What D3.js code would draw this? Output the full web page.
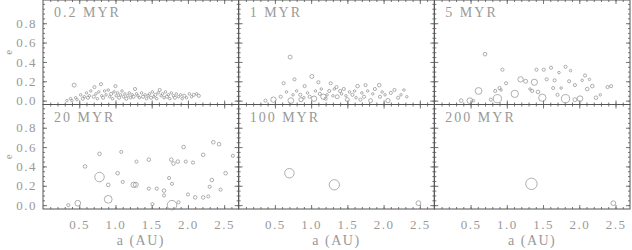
<!DOCTYPE html>
<html>
<head>
<meta charset="utf-8">
<script src="https://cdn.jsdelivr.net/npm/d3@7"></script>
<style>
  body { margin: 0; background: #fff; }
  text { font-family: "Liberation Serif", serif; fill: #999; }
</style>
</head>
<body>
<svg id="fig_planets" width="632" height="250"></svg>
<script>
// panel titles, in reading order
var ages = ["0.2 MYR", "1 MYR", "5 MYR", "20 MYR", "100 MYR", "200 MYR"];
var xTicks = [0.5, 1.0, 1.5, 2.0, 2.5];
var yTicks = [0.0, 0.2, 0.4, 0.6, 0.8];

// bodies: [a (AU), e, mass (relative to largest)]
var bodies02 = [
  [0.43,0.16,0.04],[0.33,0.00,0.01],[0.38,0.02,0.01],[0.40,0.00,0.01],[0.45,0.03,0.01],[0.47,0.01,0.01],
  [0.52,0.06,0.01],[0.55,0.02,0.02],[0.57,0.04,0.01],[0.60,0.08,0.01],[0.62,0.03,0.02],[0.64,0.05,0.01],
  [0.66,0.10,0.01],[0.70,0.04,0.02],[0.71,0.14,0.02],[0.73,0.07,0.01],[0.75,0.02,0.01],[0.77,0.09,0.01],
  [0.80,0.17,0.02],[0.81,0.05,0.01],[0.83,0.03,0.02],[0.85,0.10,0.01],[0.87,0.06,0.01],[0.90,0.11,0.01],
  [0.92,0.04,0.01],[0.94,0.07,0.02],[0.96,0.02,0.01],[0.98,0.09,0.01],[1.00,0.15,0.02],[1.01,0.05,0.01],
  [1.03,0.08,0.01],[1.05,0.03,0.02],[1.07,0.06,0.01],[1.09,0.10,0.01],[1.11,0.04,0.01],[1.13,0.07,0.01],
  [1.15,0.02,0.02],[1.17,0.05,0.01],[1.19,0.08,0.01],[1.21,0.03,0.01],[1.23,0.06,0.01],[1.25,0.04,0.02],
  [1.27,0.12,0.02],[1.29,0.07,0.01],[1.31,0.05,0.01],[1.33,0.03,0.01],[1.36,0.08,0.01],[1.38,0.04,0.02],
  [1.41,0.06,0.01],[1.43,0.02,0.01],[1.45,0.05,0.01],[1.47,0.07,0.01],[1.49,0.03,0.02],[1.51,0.09,0.01],
  [1.53,0.04,0.01],[1.55,0.06,0.02],[1.57,0.02,0.01],[1.59,0.08,0.01],[1.61,0.11,0.02],[1.63,0.05,0.01],
  [1.65,0.07,0.01],[1.67,0.03,0.01],[1.69,0.09,0.01],[1.71,0.04,0.02],[1.73,0.06,0.01],[1.75,0.02,0.01],
  [1.77,0.08,0.01],[1.80,0.05,0.01],[1.82,0.03,0.02],[1.84,0.07,0.01],[1.87,0.04,0.01],[1.90,0.06,0.01],
  [1.92,0.02,0.01],[1.95,0.05,0.02],[1.98,0.03,0.01],[2.02,0.07,0.01],[2.05,0.04,0.01],[2.08,0.06,0.02],
  [2.12,0.07,0.01],[2.15,0.05,0.02]
];
var bodies1 = [
  [0.71,0.45,0.04],[0.77,0.22,0.02],[0.62,0.18,0.02],[1.01,0.25,0.04],[0.91,0.15,0.02],[1.10,0.19,0.02],
  [1.27,0.18,0.02],[0.48,0.01,0.10],[0.37,0.00,0.02],[0.58,0.04,0.02],[0.72,0.00,0.12],[0.86,0.01,0.05],
  [1.04,0.02,0.10],[1.17,0.04,0.10],[1.36,0.04,0.04],[1.50,0.01,0.04],[1.68,0.01,0.02],[1.82,0.00,0.04],
  [1.95,0.04,0.02],[2.06,0.00,0.05],[1.94,0.16,0.03],[1.64,0.15,0.03],[1.75,0.16,0.02],[1.35,0.14,0.02],
  [1.40,0.10,0.02],[2.15,0.11,0.02],[2.28,0.11,0.01],[2.20,0.03,0.02],[0.66,0.09,0.01],[0.80,0.10,0.01],
  [0.85,0.06,0.02],[0.95,0.08,0.01],[0.98,0.04,0.02],[1.06,0.10,0.01],[1.12,0.07,0.02],[1.14,0.12,0.01],
  [1.22,0.06,0.01],[1.25,0.10,0.02],[1.30,0.05,0.01],[1.32,0.12,0.01],[1.42,0.07,0.01],[1.45,0.12,0.02],
  [1.48,0.05,0.01],[1.53,0.09,0.01],[1.57,0.06,0.02],[1.60,0.10,0.01],[1.62,0.03,0.01],[1.70,0.08,0.01],
  [1.73,0.04,0.02],[1.78,0.10,0.01],[1.85,0.07,0.01],[1.88,0.12,0.02],[1.98,0.09,0.01],[2.02,0.06,0.01],
  [2.10,0.08,0.02],[2.24,0.06,0.01],[2.32,0.04,0.01],[0.90,0.03,0.01],[1.20,0.02,0.02],[0.75,0.06,0.01]
];
var bodies5 = [
  [0.70,0.48,0.03],[0.94,0.32,0.02],[0.61,0.10,0.20],[0.49,0.00,0.12],[0.37,0.00,0.03],[0.87,0.02,0.35],
  [0.78,0.01,0.02],[1.11,0.07,0.25],[1.19,0.22,0.10],[1.26,0.20,0.04],[1.38,0.19,0.15],[1.43,0.09,0.03],
  [1.49,0.03,0.25],[1.41,0.32,0.02],[1.51,0.32,0.02],[1.61,0.34,0.02],[1.72,0.29,0.01],[1.81,0.35,0.02],
  [1.88,0.31,0.01],[1.66,0.21,0.02],[1.75,0.13,0.01],[1.86,0.20,0.02],[1.81,0.02,0.35],[1.94,0.16,0.02],
  [1.94,0.01,0.04],[2.01,0.02,0.12],[2.08,0.26,0.02],[2.14,0.22,0.01],[2.11,0.12,0.03],[2.18,0.15,0.03],
  [2.23,0.03,0.03],[2.29,0.06,0.01],[2.39,0.14,0.02],[2.44,0.15,0.02],[0.99,0.18,0.02],[0.90,0.13,0.02],
  [0.84,0.10,0.02],[0.92,0.11,0.01],[1.32,0.12,0.01],[1.55,0.22,0.02],[1.64,0.13,0.02],[1.35,0.10,0.02],
  [1.70,0.06,0.02],[2.04,0.21,0.01],[0.54,0.00,0.01]
];
var bodies20 = [
  [0.35,0.00,0.02],[0.48,0.02,0.12],[0.58,0.40,0.03],[0.78,0.53,0.03],[0.78,0.29,0.55],[0.90,0.06,0.30],
  [0.90,0.21,0.03],[1.03,0.33,0.03],[1.08,0.55,0.02],[1.10,0.24,0.02],[1.25,0.21,0.10],[1.28,0.21,0.08],
  [1.29,0.45,0.02],[1.46,0.47,0.03],[1.46,0.17,0.02],[1.51,0.01,0.02],[1.57,0.17,0.02],[1.67,0.10,0.02],
  [1.67,0.15,0.03],[1.74,0.28,0.02],[1.77,0.47,0.03],[1.78,0.00,0.55],[1.78,0.22,0.02],[1.80,0.43,0.03],
  [1.86,0.45,0.03],[1.87,0.03,0.02],[1.94,0.60,0.03],[1.97,0.45,0.02],[2.00,0.11,0.02],[2.07,0.44,0.02],
  [2.10,0.08,0.03],[2.21,0.52,0.03],[2.21,0.08,0.03],[2.28,0.09,0.02],[2.30,0.19,0.02],[2.33,0.26,0.03],
  [2.35,0.65,0.03],[2.43,0.63,0.03],[2.45,0.16,0.02],[2.52,0.33,0.03],[2.62,0.51,0.02]
];
var bodies100 = [
  [0.70,0.33,0.55],[1.32,0.21,0.70],[2.48,0.02,0.07]
];
var bodies200 = [
  [1.34,0.22,0.95],[2.47,0.02,0.07]
];
var panels = [bodies02, bodies1, bodies5, bodies20, bodies100, bodies200];

(function fig_planets() {
  var svg = d3.select("#fig_planets"),
      margin = {top: 0, right: 2, bottom: 41, left: 43},
      width = +svg.attr("width") - margin.left - margin.right,
      height = +svg.attr("height") - margin.top - margin.bottom,
      g = svg.append("g").attr("transform", "translate(" + margin.left + "," + margin.top + ")");

  var pw = width / 3, ph = height / 2;

  var x = d3.scaleLinear().domain([0, 2.7]).range([0, pw]);
  var y = d3.scaleLinear().domain([-0.04, 1.04]).range([ph, 0]);
  var r = d3.scalePow().exponent(1 / 3).domain([0, 1]).range([0, 5.8]);

  var xMinor = d3.range(0.1, 2.7, 0.1), yMinor = d3.range(0, 1.04, 0.05);

  panels.forEach(function(data, i) {
    var col = i % 3, row = Math.floor(i / 3);
    var p = g.append("g")
        .attr("transform", "translate(" + (col * pw) + "," + (row * ph) + ")");

    // minor ticks on all sides
    p.append("g").attr("transform", "translate(0," + ph + ")")
        .call(d3.axisBottom(x).tickValues(xMinor).tickSize(-2).tickFormat(""));
    p.append("g")
        .call(d3.axisTop(x).tickValues(xMinor).tickSize(-2).tickFormat(""));
    p.append("g")
        .call(d3.axisLeft(y).tickValues(yMinor).tickSize(-2).tickFormat(""));
    p.append("g").attr("transform", "translate(" + pw + ",0)")
        .call(d3.axisRight(y).tickValues(yMinor).tickSize(-2).tickFormat(""));

    // major ticks
    p.append("g").attr("transform", "translate(0," + ph + ")")
        .call(d3.axisBottom(x).tickValues(xTicks).tickSize(-4).tickPadding(11)
          .tickFormat(row === 1 ? d3.format(".1f") : ""));
    p.append("g")
        .call(d3.axisTop(x).tickValues(xTicks).tickSize(-4).tickFormat(""));
    p.append("g")
        .call(d3.axisLeft(y).tickValues(yTicks).tickSize(-4).tickPadding(6)
          .tickFormat(col === 0 ? d3.format(".1f") : ""));
    p.append("g").attr("transform", "translate(" + pw + ",0)")
        .call(d3.axisRight(y).tickValues(yTicks).tickSize(-4).tickFormat(""));

    p.selectAll(".domain").remove();
    p.selectAll(".tick line").attr("stroke", "#777");
    p.selectAll(".tick text")
        .style("font-family", "Liberation Serif, serif")
        .style("font-size", "13px")
        .style("letter-spacing", "1.5px")
        .attr("fill", "#999");

    p.append("rect")
        .attr("width", pw).attr("height", ph)
        .attr("fill", "none").attr("stroke", "#555").attr("stroke-width", 1);

    p.append("g").selectAll("circle")
      .data(data)
      .enter().append("circle")
        .attr("cx", function(d) { return x(d[0]); })
        .attr("cy", function(d) { return y(d[1]); })
        .attr("r", function(d) { return r(d[2]); })
        .attr("fill", "none")
        .attr("stroke", "#8c8c8c")
        .attr("stroke-width", 0.7);

    p.append("text")
        .attr("x", 11).attr("y", 17)
        .text(ages[i])
        .style("font-size", "14px")
        .style("letter-spacing", "2px");

    if (row === 1) {
      p.append("text")
          .attr("x", pw / 2).attr("y", 245 - ph)
          .attr("text-anchor", "middle")
          .text("a (AU)")
          .style("font-size", "14px")
          .style("letter-spacing", "1.5px");
    }
    if (col === 0) {
      p.append("text")
          .attr("transform", "translate(-31," + (ph / 2) + ") rotate(-90)")
          .attr("text-anchor", "middle")
          .text("e")
          .style("font-size", "11px");
    }
  });
})();
</script>
</body>
</html>
